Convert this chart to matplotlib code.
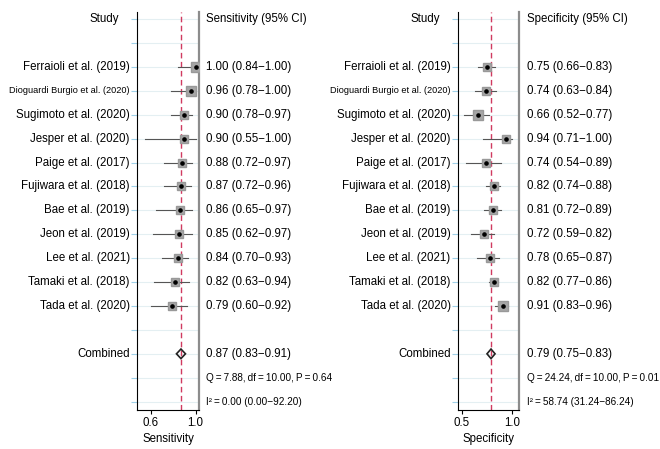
import matplotlib
matplotlib.use("Agg")
import matplotlib.pyplot as plt
from matplotlib.patches import Polygon
import matplotlib.transforms as mtransforms

plt.rcParams['font.family'] = ['Liberation Sans', 'DejaVu Sans']

studies = ["Ferraioli et al. (2019)", "Dioguardi Burgio et al. (2020)",
           "Sugimoto et al. (2020)", "Jesper et al. (2020)", "Paige et al. (2017)",
           "Fujiwara et al. (2018)", "Bae et al. (2019)", "Jeon et al. (2019)",
           "Lee et al. (2021)", "Tamaki et al. (2018)", "Tada et al. (2020)"]

sens = [1.00, 0.96, 0.90, 0.90, 0.88, 0.87, 0.86, 0.85, 0.84, 0.82, 0.79]
sens_lo = [0.84, 0.78, 0.78, 0.55, 0.72, 0.72, 0.65, 0.62, 0.70, 0.63, 0.60]
sens_hi = [1.00, 1.00, 0.97, 1.00, 0.97, 0.96, 0.97, 0.97, 0.93, 0.94, 0.92]
sens_w = [1.2, 1.1, 1.0, 1.0, 1.0, 1.0, 1.0, 1.0, 1.0, 1.0, 1.0]
sens_pool = (0.87, 0.83, 0.91)
sens_q = "Q\u2009=\u20097.88,\u2009df\u2009=\u200910.00,\u2009P\u2009=\u20090.64"
sens_i2 = "I\u00b2\u2009=\u20090.00 (0.00\u221292.20)"

spec = [0.75, 0.74, 0.66, 0.94, 0.74, 0.82, 0.81, 0.72, 0.78, 0.82, 0.91]
spec_lo = [0.66, 0.63, 0.52, 0.71, 0.54, 0.74, 0.72, 0.59, 0.65, 0.77, 0.83]
spec_hi = [0.83, 0.84, 0.77, 1.00, 0.89, 0.88, 0.89, 0.82, 0.87, 0.86, 0.96]
spec_w = [1.0, 1.05, 1.1, 1.05, 1.0, 1.0, 1.0, 1.0, 1.0, 1.0, 1.1]
spec_pool = (0.79, 0.75, 0.83)
spec_q = "Q\u2009=\u200924.24,\u2009df\u2009=\u200910.00,\u2009P\u2009=\u20090.01"
spec_i2 = "I\u00b2\u2009=\u200958.74 (31.24\u221286.24)"


def panel(ax, est, lo, hi, w, pool, qtxt, i2txt, header, xlabel, xlim, ticks):
    rows = list(range(2, 2 + len(est)))
    pool_row = rows[-1] + 2
    nrows = pool_row + 2

    for r in range(0, nrows + 1):
        ax.axhline(r, color="#e4eff2", lw=0.8, zorder=0)

    ax.axvline(pool[0], color="#d03a60", lw=1.0, ls=(0, (4, 2.5)), zorder=1)

    for r, e, l, h, s in zip(rows, est, lo, hi, w):
        ax.plot([l, h], [r, r], color="#555555", lw=0.8, zorder=2)
        ax.plot(e, r, marker="s", ms=6 * s, color="#a6a6a6", mec="#999999", zorder=3)
        ax.plot(e, r, marker="o", ms=2.3, color="black", zorder=4)

    dia = Polygon([[pool[1], pool_row], [pool[0], pool_row - 0.2],
                   [pool[2], pool_row], [pool[0], pool_row + 0.2]],
                  closed=True, fill=False, ec="#222222", lw=1.2, zorder=4)
    ax.add_patch(dia)

    ax.set_xlim(*xlim)
    ax.set_ylim(nrows + 0.35, -0.3)
    ax.set_xticks(ticks)
    ax.set_xticklabels(["%.1f" % t for t in ticks], fontsize=8.3)
    ax.set_yticks(range(0, nrows + 1))
    ax.set_yticklabels([])
    ax.tick_params(axis="y", length=4, color="#9fd0e8", width=0.8)
    ax.tick_params(axis="x", length=3, pad=2)
    ax.set_xlabel(xlabel, fontsize=8.3, labelpad=3)

    ax.spines["top"].set_visible(False)
    ax.spines["left"].set_color("black")
    ax.spines["bottom"].set_color("black")
    ax.spines["right"].set_color("#8c8c8c")
    ax.spines["right"].set_linewidth(1.6)

    tr = mtransforms.blended_transform_factory(ax.transAxes, ax.transData)
    ax.text(-0.29, 0, "Study", ha="right", va="center", fontsize=8.3, transform=tr)
    ax.text(1.12, 0, header, ha="left", va="center", fontsize=8.3, transform=tr)
    for r, name, e, l, h in zip(rows, studies, est, lo, hi):
        fs = 6.6 if len(name) > 25 else 8.3
        ax.text(-0.115, r, name, ha="right", va="center", fontsize=fs, transform=tr)
        ax.text(1.12, r, "%.2f (%.2f\u2212%.2f)" % (e, l, h), ha="left",
                va="center", fontsize=8.3, transform=tr)
    ax.text(-0.115, pool_row, "Combined", ha="right", va="center", fontsize=8.3, transform=tr)
    ax.text(1.12, pool_row, "%.2f (%.2f\u2212%.2f)" % pool, ha="left",
            va="center", fontsize=8.3, transform=tr)
    ax.text(1.12, pool_row + 1, qtxt, ha="left", va="center", fontsize=7.2, transform=tr)
    ax.text(1.12, pool_row + 2, i2txt, ha="left", va="center", fontsize=7.2, transform=tr)


fig = plt.figure(figsize=(6.6, 4.49), dpi=100)
axL = fig.add_axes([137 / 660, 39 / 449, 62 / 660, 398 / 449])
axR = fig.add_axes([457.7 / 660, 39 / 449, 61.6 / 660, 398 / 449])

panel(axL, sens, sens_lo, sens_hi, sens_w, sens_pool, sens_q, sens_i2,
      "Sensitivity (95% CI)", "Sensitivity", (0.48, 1.03), [0.6, 1.0])
panel(axR, spec, spec_lo, spec_hi, spec_w, spec_pool, spec_q, spec_i2,
      "Specificity (95% CI)", "Specificity", (0.46, 1.07), [0.5, 1.0])

fig.savefig("out.png", dpi=100)
